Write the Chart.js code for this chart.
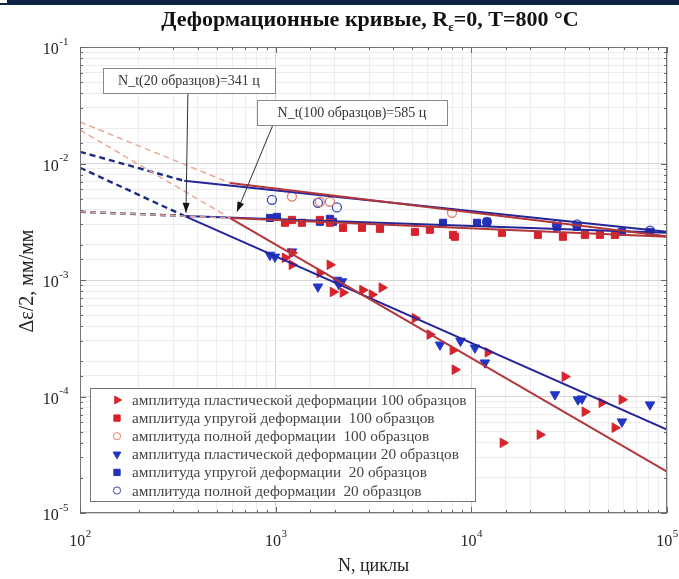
<!DOCTYPE html>
<html>
<head>
<meta charset="utf-8">
<script src="https://cdn.jsdelivr.net/npm/chart.js@4.4.1/dist/chart.umd.min.js"></script>
<style>
  html, body { margin: 0; padding: 0; background: #fff; }
  #wrap { position: relative; width: 679px; height: 579px; }
</style>
</head>
<body>
<div id="wrap"><canvas id="deform" width="679" height="579"></canvas></div>
<script>
// подписи осей (степени десяти)
const xTicks = [100, 1000, 10000, 100000];
const xTickExp = ['2', '3', '4', '5'];
const yTicks = [1e-1, 1e-2, 1e-3, 1e-4, 1e-5];
const yTickExp = ['-1', '-2', '-3', '-4', '-5'];

// экспериментальные точки [N, Δε/2]
const plastic100 = [
  [1116, 0.00155], [1211, 0.00171], [1211, 0.00135], [1893, 0.00135], [1683, 0.00115],
  [1963, 0.00079], [2208, 0.00078], [2780, 0.00082], [3490, 0.00086], [3105, 0.00075],
  [5148, 0.00047], [6137, 0.00034], [8054, 0.00025], [8242, 0.00017], [12160, 0.00024],
  [30060, 0.000148], [38040, 0.000074], [46450, 0.0000885], [58830, 0.000094],
  [54150, 0.000054], [14500, 0.00004], [22410, 0.000047]
];
const elastic100 = [
  [1116, 0.0031], [1211, 0.00328], [1362, 0.0031], [1683, 0.00328], [1893, 0.0031],
  [2208, 0.0028], [2761, 0.0028], [3411, 0.00275], [5148, 0.00259], [6137, 0.0027],
  [8054, 0.00244], [8242, 0.00235], [14330, 0.00254], [21880, 0.00244], [29370, 0.00235],
  [38040, 0.00244], [45380, 0.00244], [54150, 0.00244]
];
const total100 = [
  [1211, 0.0052], [1683, 0.00469], [1893, 0.00469], [7962, 0.00377]
];
const plastic20 = [
  [935, 0.00164], [991, 0.00158], [1211, 0.00175], [1644, 0.000875], [2056, 0.001],
  [2181, 0.00097], [2100, 0.00092], [6914, 0.000278], [8800, 0.0003], [10430, 0.000262],
  [11740, 0.000195], [26750, 0.000104], [35060, 0.000094], [36740, 0.0000957],
  [58830, 0.0000608], [81850, 0.0000851]
];
const elastic20 = [
  [935, 0.00341], [1016, 0.00348], [1683, 0.00316], [1893, 0.00335], [1963, 0.00316],
  [7166, 0.0031], [10690, 0.0031], [12020, 0.00316], [27370, 0.00286], [34640, 0.00286],
  [58830, 0.00259], [81850, 0.00259]
];
const total20 = [
  [957, 0.00488], [1644, 0.0046], [2056, 0.0042], [12020, 0.00316], [27370, 0.00298],
  [34640, 0.003], [81850, 0.00265]
];

// аппроксимирующие прямые (концы отрезков)
const elastic20Fit = [[341, 0.00355], [1e5, 0.00254]];
const plastic20Fit = [[341, 0.00355], [1e5, 0.000052]];
const total20Fit = [[341, 0.0071], [1e5, 0.00259]];
const elastic20Ext = [[100, 0.00385], [341, 0.00355]];
const plastic20Ext = [[100, 0.0092], [341, 0.00355]];
const total20Ext = [[100, 0.0126], [341, 0.0071]];

const elastic100Fit = [[585, 0.0034], [1e5, 0.00235]];
const plastic100Fit = [[585, 0.0034], [1e5, 0.0000226]];
const total100Fit = [[585, 0.0068], [1e5, 0.00237]];
const elastic100Ext = [[100, 0.00386], [585, 0.0034]];
const plastic100Ext = [[100, 0.0194], [585, 0.0034]];
const total100Ext = [[100, 0.0227], [585, 0.0068]];

const legendLabels = [
  'амплитуда пластической деформации 100 образцов',
  'амплитуда упругой деформации  100 образцов',
  'амплитуда полной деформации  100 образцов',
  'амплитуда пластической деформации 20 образцов',
  'амплитуда упругой деформации  20 образцов',
  'амплитуда полной деформации  20 образцов'
];

const notes = [
  { text: 'N_t(20 образцов)=341 ц', box: [131, 991, 0.066, 0.0404], from: [356, 0.0404], to: [348, 0.00377] },
  { text: 'N_t(100 образцов)=585 ц', box: [802, 7500, 0.0351, 0.0214], from: [968, 0.0214], to: [634, 0.00385] }
];

const RED = '#d8222c';
const BLUE = '#2136c8';
const SERIF = '"Liberation Serif", "DejaVu Serif", serif';

const xy = arr => arr.map(p => ({ x: p[0], y: p[1] }));

function pts (data, style, rot, color, filled, r) {
  return {
    data: xy(data), showLine: false, pointStyle: style, rotation: rot,
    pointRadius: r, pointHoverRadius: r,
    pointBackgroundColor: filled ? color : 'rgba(0,0,0,0)',
    pointBorderColor: color, pointBorderWidth: filled ? 1 : 1.3, order: 2
  };
}
function line (data, color, width, dash) {
  return {
    data: xy(data), showLine: true, pointRadius: 0, borderColor: color,
    borderWidth: width, borderDash: dash || [], order: 1
  };
}

const markerStyles = [
  ['triangle', 90, RED, true],
  ['rect', 0, RED, true],
  ['circle', 0, '#e2806e', false],
  ['triangle', 180, BLUE, true],
  ['rect', 0, '#2430b8', true],
  ['circle', 0, '#3a48b8', false]
];

function drawMarker (ctx, kind, rot, color, filled, x, y, r) {
  ctx.save();
  ctx.translate(x, y);
  ctx.rotate(rot * Math.PI / 180);
  ctx.beginPath();
  if (kind === 'triangle') {
    ctx.moveTo(0, -r);
    ctx.lineTo(r * 0.87, r * 0.5);
    ctx.lineTo(-r * 0.87, r * 0.5);
    ctx.closePath();
  } else if (kind === 'rect') {
    ctx.rect(-r * 0.7, -r * 0.7, r * 1.4, r * 1.4);
  } else {
    ctx.arc(0, 0, r * 0.8, 0, Math.PI * 2);
  }
  if (filled) { ctx.fillStyle = color; ctx.fill(); }
  ctx.strokeStyle = color; ctx.lineWidth = 1; ctx.stroke();
  ctx.restore();
}

function drawPow (ctx, base, exp, x, y, align) {
  ctx.font = '16px ' + SERIF;
  const wb = ctx.measureText(base).width;
  ctx.font = '11px ' + SERIF;
  const we = ctx.measureText(exp).width;
  let x0 = align === 'center' ? x - (wb + we) / 2 : x - wb - we;
  ctx.fillStyle = '#222';
  ctx.textAlign = 'left';
  ctx.textBaseline = 'middle';
  ctx.font = '16px ' + SERIF;
  ctx.fillText(base, x0, y);
  ctx.font = '11px ' + SERIF;
  ctx.fillText(exp, x0 + wb + 0.5, y - 8);
}

const decor = {
  id: 'decor',
  beforeDraw (chart) {
    const ctx = chart.ctx;
    ctx.save();
    ctx.fillStyle = '#fff';
    ctx.fillRect(0, 0, chart.width, chart.height);
    ctx.fillStyle = '#0f2347';
    ctx.fillRect(0, 0, chart.width, 5);
    ctx.fillStyle = '#fff';
    ctx.fillRect(0, 0, 7, 3);
    ctx.restore();
  },
  afterDatasetsDraw (chart) {
    const ctx = chart.ctx;
    const xs = chart.scales.x;
    const ys = chart.scales.y;
    const a = chart.chartArea;
    ctx.save();

    // рамка и внутренние засечки
    ctx.strokeStyle = '#777';
    ctx.lineWidth = 1;
    ctx.strokeRect(a.left + 0.5, a.top + 0.5, a.right - a.left - 1, a.bottom - a.top - 1);
    ctx.strokeStyle = '#666';
    xs.ticks.forEach(t => {
      const px = Math.round(xs.getPixelForValue(t.value)) + 0.5;
      const len = isMajor(t.value) ? 6 : 3;
      ctx.beginPath();
      ctx.moveTo(px, a.bottom); ctx.lineTo(px, a.bottom - len);
      ctx.moveTo(px, a.top); ctx.lineTo(px, a.top + len);
      ctx.stroke();
    });
    ys.ticks.forEach(t => {
      const py = Math.round(ys.getPixelForValue(t.value)) + 0.5;
      const len = isMajor(t.value) ? 6 : 3;
      ctx.beginPath();
      ctx.moveTo(a.left, py); ctx.lineTo(a.left + len, py);
      ctx.moveTo(a.right, py); ctx.lineTo(a.right - len, py);
      ctx.stroke();
    });

    // аннотации
    notes.forEach(n => {
      const l = xs.getPixelForValue(n.box[0]);
      const r = xs.getPixelForValue(n.box[1]);
      const t = ys.getPixelForValue(n.box[2]);
      const b = ys.getPixelForValue(n.box[3]);
      const fx = xs.getPixelForValue(n.from[0]);
      const fy = ys.getPixelForValue(n.from[1]);
      const tx = xs.getPixelForValue(n.to[0]);
      const ty = ys.getPixelForValue(n.to[1]);
      ctx.strokeStyle = '#333';
      ctx.lineWidth = 1;
      ctx.beginPath();
      ctx.moveTo(fx, fy); ctx.lineTo(tx, ty);
      ctx.stroke();
      const ang = Math.atan2(ty - fy, tx - fx);
      ctx.fillStyle = '#111';
      ctx.beginPath();
      ctx.moveTo(tx, ty);
      ctx.lineTo(tx - 10 * Math.cos(ang) + 3.5 * Math.sin(ang), ty - 10 * Math.sin(ang) - 3.5 * Math.cos(ang));
      ctx.lineTo(tx - 10 * Math.cos(ang) - 3.5 * Math.sin(ang), ty - 10 * Math.sin(ang) + 3.5 * Math.cos(ang));
      ctx.closePath();
      ctx.fill();
      ctx.fillStyle = '#fff';
      ctx.fillRect(l, t, r - l, b - t);
      ctx.strokeStyle = '#888';
      ctx.strokeRect(Math.round(l) + 0.5, Math.round(t) + 0.5, Math.round(r - l), Math.round(b - t));
      ctx.fillStyle = '#333';
      ctx.font = '14px ' + SERIF;
      ctx.textAlign = 'center';
      ctx.textBaseline = 'middle';
      ctx.fillText(n.text, (l + r) / 2, (t + b) / 2 + 1);
    });

    // легенда
    const lx = 90, ly = 388, lw = 385, lh = 113;
    ctx.fillStyle = '#fff';
    ctx.fillRect(lx, ly, lw, lh);
    ctx.strokeStyle = '#777';
    ctx.strokeRect(lx + 0.5, ly + 0.5, lw, lh);
    legendLabels.forEach((txt, i) => {
      const yy = ly + 12 + i * 18.1;
      const m = markerStyles[i];
      drawMarker(ctx, m[0], m[1], m[2], m[3], lx + 27, yy, 4.5);
      ctx.fillStyle = '#444';
      ctx.font = '15.3px ' + SERIF;
      ctx.textAlign = 'left';
      ctx.textBaseline = 'middle';
      ctx.fillText(txt, lx + 42, yy + 1);
    });
    ctx.restore();
  },
  afterDraw (chart) {
    const ctx = chart.ctx;
    const xs = chart.scales.x;
    const ys = chart.scales.y;
    const a = chart.chartArea;
    ctx.save();
    xTicks.forEach((v, i) => drawPow(ctx, '10', xTickExp[i], xs.getPixelForValue(v), a.bottom + 29, 'center'));
    yTicks.forEach((v, i) => drawPow(ctx, '10', yTickExp[i], a.left - 12, ys.getPixelForValue(v) + 3, 'right'));

    // подписи осей
    ctx.fillStyle = '#222';
    ctx.font = '18px ' + SERIF;
    ctx.textAlign = 'center';
    ctx.textBaseline = 'middle';
    ctx.fillText('N, циклы', (a.left + a.right) / 2, 566);
    ctx.save();
    ctx.translate(28, 281);
    ctx.rotate(-Math.PI / 2);
    ctx.font = '20px ' + SERIF;
    ctx.fillText('Δε/2, мм/мм', 0, 0);
    ctx.restore();

    // заголовок с индексом
    const p1 = 'Деформационные кривые, R';
    const sub = 'ε';
    const p2 = '=0, T=800 °C';
    ctx.font = 'bold 22px ' + SERIF;
    const w1 = ctx.measureText(p1).width;
    const w2 = ctx.measureText(p2).width;
    ctx.font = 'bold 13px ' + SERIF;
    const ws = ctx.measureText(sub).width;
    let x0 = 370 - (w1 + ws + w2) / 2;
    ctx.textAlign = 'left';
    ctx.fillStyle = '#111';
    ctx.font = 'bold 22px ' + SERIF;
    ctx.fillText(p1, x0, 20);
    ctx.font = 'bold 13px ' + SERIF;
    ctx.fillText(sub, x0 + w1, 28);
    ctx.font = 'bold 22px ' + SERIF;
    ctx.fillText(p2, x0 + w1 + ws, 20);
    ctx.restore();
  }
};

function isMajor (v) {
  return Math.abs(Math.log10(v) - Math.round(Math.log10(v))) < 1e-6;
}

new Chart(document.getElementById('deform'), {
  type: 'scatter',
  data: {
    datasets: [
      line(elastic100Ext, '#eaa894', 1.5, [6, 4]),
      line(plastic100Ext, '#eaa894', 1.5, [6, 4]),
      line(total100Ext, '#eaa894', 1.5, [6, 4]),
      line(elastic20Ext, '#1f2b80', 2.4, [6, 4]),
      line(plastic20Ext, '#1f2b80', 2.4, [6, 4]),
      line(total20Ext, '#1f2b80', 2.4, [6, 4]),
      line(elastic100Fit, '#b3363a', 2),
      line(plastic100Fit, '#b3363a', 2),
      line(total100Fit, '#b3363a', 2),
      line(elastic20Fit, '#25259a', 2),
      line(plastic20Fit, '#25259a', 2),
      line(total20Fit, '#25259a', 2),
      pts(plastic100, 'triangle', 90, RED, true, 5.5),
      pts(elastic100, 'rect', 0, RED, true, 5),
      pts(total100, 'circle', 0, '#e2806e', false, 4.5),
      pts(plastic20, 'triangle', 180, BLUE, true, 5.5),
      pts(elastic20, 'rect', 0, '#2430b8', true, 5),
      pts(total20, 'circle', 0, '#3a48b8', false, 4.5)
    ]
  },
  options: {
    responsive: false,
    animation: false,
    events: [],
    layout: { padding: { left: 80, right: 12, top: 47, bottom: 66 } },
    plugins: { legend: { display: false }, tooltip: { enabled: false } },
    scales: {
      x: {
        type: 'logarithmic', min: 100, max: 100000,
        afterFit (s) { s.height = 0; },
        ticks: { display: false, autoSkip: false },
        border: { display: false },
        grid: { drawTicks: false, color: c => isMajor(c.tick.value) ? '#d4d4d4' : '#ededed' }
      },
      y: {
        type: 'logarithmic', min: 1e-5, max: 1e-1,
        afterFit (s) { s.width = 0; },
        ticks: { display: false, autoSkip: false },
        border: { display: false },
        grid: { drawTicks: false, color: c => isMajor(c.tick.value) ? '#d4d4d4' : '#ededed' }
      }
    }
  },
  plugins: [decor]
});
</script>
</body>
</html>
